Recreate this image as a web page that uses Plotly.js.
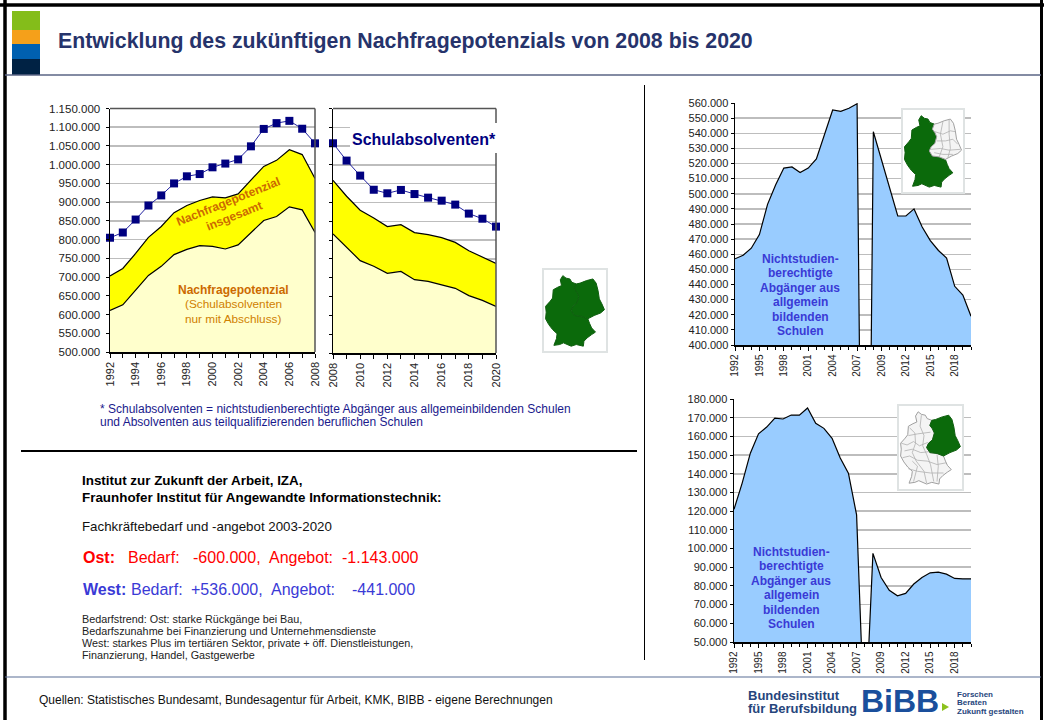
<!DOCTYPE html>
<html><head><meta charset="utf-8">
<script src="https://cdn.plot.ly/plotly-3.0.1.min.js"></script>
<style>html,body{margin:0;padding:0;background:#fff}#c{width:1044px;height:720px}</style>
</head><body><div id="c"></div>
<script>
// ---- data ----
const yearsPast=[1992,1993,1994,1995,1996,1997,1998,1999,2000,2001,2002,2003,2004,2005,2006,2007,2008];
const absolventenPast=[805000,819000,853600,891000,918000,950000,969000,975000,993000,1003000,1014000,1049000,1095500,1111000,1117000,1096000,1057000];
const insgesamtPast=[703000,723000,763000,806000,835000,872000,891000,904500,914000,911600,922000,958000,995500,1011600,1040000,1027000,963000];
const abschlussPast=[610700,626000,665000,704500,728600,760000,774000,784000,782000,775000,786000,819000,851000,861600,887500,879500,819000];
const yearsFuture=[2008,2009,2010,2011,2012,2013,2014,2015,2016,2017,2018,2019,2020];
const absolventenFuture=[1057600,1011500,971600,934000,924600,933500,922600,913000,905000,894500,870600,857000,836000];
const insgesamtFuture=[959000,916700,879400,859000,836000,841000,820000,814700,806700,794000,772000,755000,738000];
const abschlussFuture=[816500,780000,745600,730500,712000,717000,695000,690600,681700,672000,652500,640000,624000];
const regionYears=['1992','1993','1994','1995','1996','1997','1998','1999','2000','2001','2002','2003','2004','2005','2006','2007',' ','2008','2009','2010','2011','2012','2013','2014','2015','2016','2017','2018','2019','2020'];
const westValues=[457000,459300,464000,473000,493000,506000,517000,517700,514000,517000,523000,539000,555400,554500,556500,559500,0,541000,522500,504000,485300,485300,490000,478000,469000,462500,457500,438800,433000,419000];
const ostValues=[121000,135000,151000,161400,165000,169800,169300,171400,171400,175200,167000,164300,159000,148400,140300,118000,0,97400,84500,77700,74700,76000,81000,84500,87000,87400,86300,84000,83800,83800];
const abgaengerLines=['Nichtstudien-','berechtigte','Abgänger aus','allgemein','bildenden','Schulen'];

// ---- helpers ----
const W=1044,H=720,F='"Liberation Sans", Arial, sans-serif';
const X=p=>p/W, Y=p=>1-p/H;
const rect=(x0,y0,x1,y1,fill,line,lw)=>({type:'rect',xref:'paper',yref:'paper',x0:X(x0),x1:X(x1),y0:Y(y0),y1:Y(y1),fillcolor:fill,line:{color:line||fill,width:lw===undefined?0:lw},layer:'above'});
const seg=(x0,y0,x1,y1,color,w)=>({type:'line',xref:'paper',yref:'paper',x0:X(x0),x1:X(x1),y0:Y(y0),y1:Y(y1),line:{color:color,width:w},layer:'above'});
const txt=(t,x,y,size,color,o)=>Object.assign({text:t,xref:'paper',yref:'paper',x:X(x-1),y:Y(y),xanchor:'left',yanchor:'middle',showarrow:false,font:{family:F,size:size,color:color},align:'left',borderpad:0},o||{});
const bold=s=>'<b>'+s+'</b>';

// ---- germany thumbnails (decorative outline, frame-relative fractions) ----
const westShape=[[.31,.08],[.36,.11],[.42,.12],[.45,.16],[.52,.18],[.49,.24],[.53,.28],[.56,.33],[.53,.41],[.47,.45],[.44,.50],[.49,.56],[.60,.57],[.70,.60],[.73,.66],[.76,.71],[.82,.76],[.76,.79],[.69,.83],[.64,.87],[.63,.93],[.52,.91],[.44,.93],[.32,.89],[.26,.91],[.17,.92],[.21,.84],[.22,.78],[.15,.73],[.09,.67],[.04,.60],[.05,.52],[.04,.45],[.11,.39],[.15,.35],[.16,.25],[.23,.22],[.29,.20],[.27,.13]];
const eastShape=[[.52,.18],[.58,.17],[.68,.14],[.78,.12],[.83,.17],[.86,.26],[.88,.36],[.92,.42],[.96,.49],[.90,.53],[.80,.56],[.70,.60],[.60,.57],[.49,.56],[.44,.50],[.47,.45],[.53,.41],[.56,.33],[.53,.28],[.49,.24]];
const westLines=[[[.05,.45],[.14,.47],[.24,.43],[.33,.48],[.46,.44]],[[.18,.27],[.26,.33],[.27,.45],[.22,.56],[.28,.66],[.40,.78],[.44,.92]],[[.07,.62],[.18,.60],[.30,.65],[.45,.66],[.60,.70],[.74,.68]],[[.36,.12],[.34,.25],[.40,.36],[.38,.48],[.44,.58],[.50,.70],[.55,.90]],[[.16,.75],[.30,.78],[.50,.80],[.70,.80]],[[.16,.36],[.30,.34],[.50,.32]],[[.10,.54],[.22,.52],[.35,.56],[.47,.55]],[[.24,.90],[.30,.72],[.22,.66]],[[.60,.58],[.62,.72],[.60,.90]]];
const eastLines=[[[.53,.27],[.66,.30],[.78,.26],[.86,.27]],[[.56,.38],[.70,.38],[.82,.36],[.90,.42]],[[.46,.48],[.62,.47],[.76,.49],[.94,.48]],[[.66,.15],[.62,.30],[.66,.45],[.60,.57]],[[.76,.13],[.76,.30],[.78,.47],[.74,.58]],[[.52,.52],[.66,.54],[.82,.54]]];
function mapPath(pts,f,close){const [x0,y0,x1,y1]=f;return pts.map((p,i)=>(i?'L':'M')+X(x0+p[0]*(x1-x0)).toFixed(5)+','+Y(y0+p[1]*(y1-y0)).toFixed(5)).join(' ')+(close?' Z':'');}
function mapShapes(f,west,east){
  const on={color:'#0b6a0b',line:'#0f5f0f'},off={color:'#f4f4f4',line:'#a0a0a0'};
  const s=[rect(f[0],f[1],f[2],f[3],'#ffffff','#dfe3e3',2)];
  [[westShape,west],[eastShape,east]].forEach(([pts,a])=>{const c=a?on:off;
    s.push({type:'path',xref:'paper',yref:'paper',path:mapPath(pts,f,true),fillcolor:c.color,line:{color:c.line,width:1},layer:'above'});});
  [[westLines,west],[eastLines,east]].forEach(([ls,a])=>{if(!a)ls.forEach(l=>s.push({type:'path',xref:'paper',yref:'paper',path:mapPath(l,f,false),line:{color:'#b0b0b0',width:.8},layer:'above'}));});
  return s;
}

// ---- traces ----
const area=(x,y,fill,color,xa,ya,mode)=>({x,y,xaxis:xa,yaxis:ya,type:'scatter',mode:'lines',fill:mode,fillcolor:color,line:{color:fill,width:1.2},hoverinfo:'skip',showlegend:false});
const mark=(x,y,xa,ya)=>({x,y,xaxis:xa,yaxis:ya,type:'scatter',mode:'lines+markers',cliponaxis:false,line:{color:'#2222a0',width:1},marker:{symbol:'square',size:8,color:'#000080'},hoverinfo:'skip',showlegend:false});
const data=[
 area(yearsPast,abschlussPast,'#000','#ffffcc','x','y','tozeroy'),
 area(yearsPast,insgesamtPast,'#000','#ffff00','x','y','tonexty'),
 mark(yearsPast,absolventenPast,'x','y'),
 area(yearsFuture,abschlussFuture,'#000','#ffffcc','x2','y2','tozeroy'),
 area(yearsFuture,insgesamtFuture,'#000','#ffff00','x2','y2','tonexty'),
 mark(yearsFuture,absolventenFuture,'x2','y2'),
 area(regionYears,westValues,'#000','#99ccff','x3','y3','tozeroy'),
 area(regionYears,ostValues,'#000','#99ccff','x4','y4','tozeroy')
];

// ---- axes ----
const tickF={family:F,size:11,color:'#222'};
const yAxis=(y0,y1,range,dtick,anchor,labels,size,standoff)=>({domain:[Y(y1),Y(y0)],range,dtick,tick0:0,tickformat:',d',anchor,showticklabels:labels,ticks:'outside',ticklen:3,tickcolor:'#000',ticklabelstandoff:standoff||0,showline:true,linecolor:'#000',linewidth:1.5,gridcolor:'#bdbdbd',gridwidth:1.5,zeroline:false,tickfont:Object.assign({},tickF,{size:size||11})});
const xNum=(x0,x1,range,anchor)=>({domain:[X(x0),X(x1)],range,dtick:2,tick0:1992,anchor,tickangle:-90,ticks:'outside',ticklen:4,tickcolor:'#000',showline:true,linecolor:'#000',linewidth:1.5,showgrid:false,zeroline:false,tickfont:tickF,minor:{dtick:1,ticks:'outside',ticklen:4,tickcolor:'#000',showgrid:false}});
const xCat=(x0,x1,anchor)=>({type:'category',domain:[X(x0),X(x1)],range:[0,29],tickmode:'linear',tick0:0,dtick:3,anchor,tickangle:-90,ticks:'outside',ticklen:4,tickcolor:'#000',showline:true,linecolor:'#000',linewidth:1.5,showgrid:false,zeroline:false,tickfont:Object.assign({},tickF,{size:10}),minor:{dtick:1,ticks:'outside',ticklen:3,tickcolor:'#000',showgrid:false}});

// ---- chrome ----
const shapes=[
 seg(5,0,5,720,'#000',3.5), seg(0,5,1044,5,'#000',3.5), seg(1041.5,0,1041.5,720,'#000',3),
 rect(12,11,40,30,'#84bd1a'), rect(12,30,40,44,'#f5a01a'), rect(12,44,40,59,'#0060b0'), rect(12,59,40,75,'#002244'),
 seg(5,75,1041,75,'#5a6585',1.5), seg(5,677,1041,677,'#5a6f95',1.2),
 seg(644.5,85,644.5,660,'#000',1), seg(21,451,637,451,'#000',2),
 seg(110,108.5,315,108.5,'#555',1.5), seg(315,108.5,315,352,'#555',1.5),
 seg(333,108.5,496,108.5,'#555',1.5), seg(496,108.5,496,353,'#555',1.5),
 rect(350,123,500,153,'#ffffff'),
 ...mapShapes([543,269,607,352],true,true),
 ...mapShapes([902,109,964,193],true,false),
 ...mapShapes([898,405,963,490],false,true),
 {type:'path',xref:'paper',yref:'paper',path:`M${X(942)},${Y(703)} L${X(949)},${Y(707)} L${X(942)},${Y(711)} Z`,fillcolor:'#8cc21e',line:{width:0},layer:'above'}
];
const navy='#1a1a8c', orange='#cc6a00', orange2='#d08000', blue='#3a3ad6', red='#ff0000', west='#3a3ad6', logo='#26457c';
const annotations=[
 txt(bold('Entwicklung des zukünftigen Nachfragepotenzials von 2008 bis 2020'),58,41,21.3,'#26336b'),
 txt(bold('Schulabsolventen*'),352,139,16,'#000080'),
 txt(bold('Nachfragepotenzial<br>insgesamt'),232,209,12,orange,{xanchor:'center',align:'center',textangle:-22}),
 txt(bold('Nachfragepotenzial'),234,290,12,orange,{xanchor:'center'}),
 txt('(Schulabsolventen',234,304,11.8,orange2,{xanchor:'center'}),
 txt('nur mit Abschluss)',234,319,11.8,orange2,{xanchor:'center'}),
 txt('* Schulabsolventen = nichtstudienberechtigte Abgänger aus allgemeinbildenden Schulen',100,409,12,navy),
 txt('und Absolventen aus teilqualifizierenden beruflichen Schulen',100,422,12,navy),
 txt(bold('Institut zur Zukunft der Arbeit, IZA,'),82,481,13.4,'#000'),
 txt(bold('Fraunhofer Institut für Angewandte Informationstechnik:'),82,497,13.4,'#000'),
 txt('Fachkräftebedarf und -angebot 2003-2020',82,526,13.3,'#111'),
 txt(bold('Ost:'),83,557,16,red), txt('Bedarf:',128,557,16,red), txt('-600.000,',193,557,16,red), txt('Angebot:',269,557,16,red), txt('-1.143.000',342,557,16,red),
 txt(bold('West:'),83,589,16,west), txt('Bedarf:',131,589,16,west), txt('+536.000,',191,589,16,west), txt('Angebot:',271,589,16,west), txt('-441.000',352,589,16,west),
 txt('Bedarfstrend: Ost: starke Rückgänge bei Bau,',82,619,10.8,'#222'),
 txt('Bedarfszunahme bei Finanzierung und Unternehmensdienste',82,631,10.8,'#222'),
 txt('West: starkes Plus im tertiären Sektor, private + öff. Dienstleistungen,',82,643,10.8,'#222'),
 txt('Finanzierung, Handel, Gastgewerbe',82,655,10.8,'#222'),
 txt('Quellen: Statistisches Bundesamt, Bundesagentur für Arbeit, KMK, BIBB - eigene Berechnungen',39,700,12,'#111'),
 txt(bold('Bundesinstitut'),748,695,13,logo),
 txt(bold('für Berufsbildung'),748,708,13,logo),
 txt(bold('BiBB'),861,701,32,'#1a4f9c'),
 txt(bold('Forschen'),957,694,8,logo),
 txt(bold('Beraten'),957,702,8,logo),
 txt(bold('Zukunft gestalten'),957,711,8,logo),
 ...abgaengerLines.map((l,i)=>txt(bold(l),801,259+i*14.4,12,blue,{xanchor:'center'})),
 ...abgaengerLines.map((l,i)=>txt(bold(l),792,552+i*14.4,12,blue,{xanchor:'center'}))
];

const layout={width:W,height:H,margin:{l:0,r:0,t:0,b:0},paper_bgcolor:'#fff',plot_bgcolor:'rgba(0,0,0,0)',separators:',.',showlegend:false,
 font:{family:F},
 xaxis:xNum(110,315,[1992,2008],'y'),
 yaxis:yAxis(108.5,352,[500000,1150000],50000,'x',true,11.5,3),
 xaxis2:xNum(333,496,[2008,2020],'y2'),
 yaxis2:yAxis(108.5,353,[500000,1150000],50000,'x2',false),
 xaxis3:xCat(735,971,'y3'),
 yaxis3:yAxis(103,345,[400000,560000],10000,'x3',true),
 xaxis4:xCat(734,971,'y4'),
 yaxis4:yAxis(399,642,[50000,180000],10000,'x4',true),
 shapes,annotations};
Plotly.newPlot('c',data,layout,{displayModeBar:false,staticPlot:true});
</script></body></html>
